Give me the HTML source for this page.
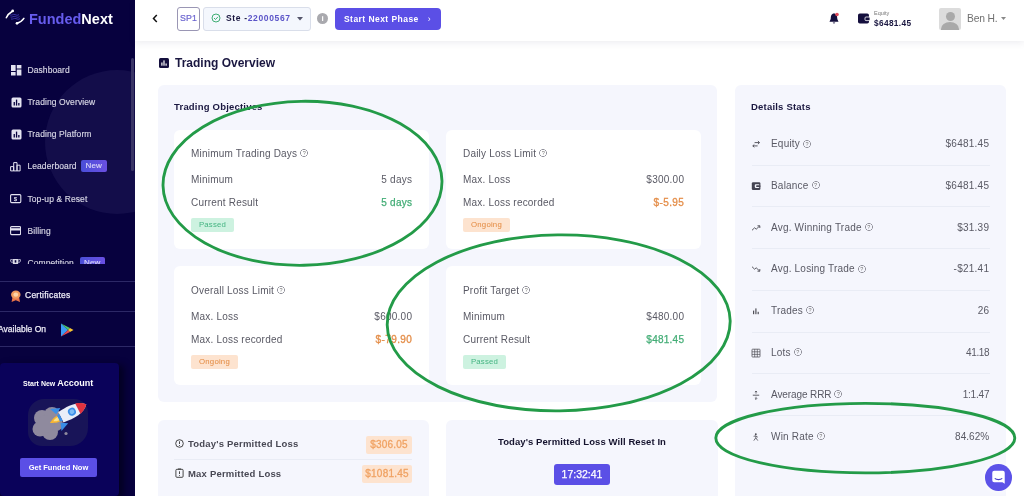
<!DOCTYPE html>
<html><head><meta charset="utf-8">
<style>
*{box-sizing:border-box;margin:0;padding:0}
html,body{width:1024px;height:496px;overflow:hidden;background:#fff;font-family:"Liberation Sans",sans-serif;color:#4a4a5a}
.abs{position:absolute}
#side{position:absolute;left:0;top:0;width:135px;height:496px;background:#07013e;overflow:hidden}
#side .glow{position:absolute;left:45px;top:70px;width:144px;height:144px;border-radius:50%;background:#130d4a}
.nav{position:absolute;left:10px;width:124px;letter-spacing:.1px;-webkit-text-stroke:.15px #d9d8e6;color:#d9d8e6;font-size:8.5px;white-space:nowrap;height:12px;line-height:12px}
.nav svg{position:absolute;left:0;top:.6px}.nav svg.s1{left:.8px;top:.9px}
.nav span.t{position:absolute;left:17.4px;top:.3px}
.new{position:absolute;background:#5b4fe0;color:#dcd9ff;font-size:8px;border-radius:2px;padding:0;width:25.5px;text-align:center;background:linear-gradient(90deg,#4a4fd8,#6a4fe2);height:12px;line-height:12px;top:0}
#top{position:absolute;left:135px;top:0;width:889px;height:40.5px;background:#fff;box-shadow:0 2px 7px rgba(60,60,100,.09)}
.panel{position:absolute;background:#f5f6fd;border-radius:6px}
.card{position:absolute;background:#fff;border-radius:6px}
.h{position:absolute;font-weight:bold;color:#1a1740;font-size:9.5px;white-space:nowrap;letter-spacing:.2px}
.l{position:absolute;font-size:10px;color:#595964;white-space:nowrap;letter-spacing:.2px}
.r{position:absolute;font-size:10px;color:#595964;white-space:nowrap;text-align:right;letter-spacing:.25px;margin-right:-.25px}
.badge{position:absolute;font-size:7.8px;border-radius:2px;height:14px;line-height:14.5px;text-align:center;letter-spacing:.2px}
.g{color:#43ad76;-webkit-text-stroke:.25px #43ad76}.o{color:#e48d48;-webkit-text-stroke:.3px #e48d48;letter-spacing:.4px}
.bg{background:#cdf2e0;color:#45b582}.bo{background:#fde3cf;color:#e3893f}
.q{display:inline-block;width:8px;height:8px;margin-left:3px;position:relative;top:.4px;background:radial-gradient(circle at 50% 50%,transparent 2.9px,#93939d 3.1px,#93939d 3.65px,transparent 4px)}.q:after{content:"?";position:absolute;left:0;top:0;width:8px;text-align:center;font-size:5.5px;line-height:8.4px;color:#777;letter-spacing:0}
.sep{position:absolute;height:1px;background:#e9ecf5}
#side,#top,#main{will-change:transform}
</style></head><body>

<div id="side">
 <div class="glow"></div>
 <div class="abs" style="left:29px;top:10.7px;font-size:14.5px;font-weight:bold;color:#675cee;letter-spacing:0px">Funded<span style="color:#fff">Next</span></div>
 <svg class="abs" style="left:5px;top:9px" width="20" height="16" viewBox="0 0 20 16"><path d="M5 6 C7 6.6 8 4.8 10 5.6 S12.5 6.6 14 5.6 M5.5 8 C7.5 8.6 8.5 6.8 10.5 7.6 S13 8.6 14.5 7.6 M6 10 C8 10.6 9 8.8 11 9.6 S13.5 10.6 15 9.6" stroke="#3f38b0" stroke-width=".9" fill="none"/><path d="M1.3 8.8 C2.5 6 5 3.6 7.6 2" stroke="#fff" stroke-width="1.5" fill="none" stroke-linecap="round"/><circle cx="7.7" cy="1.9" r="1.35" fill="#fff"/><path d="M18.9 9.3 C17.6 11.4 14.8 13.2 12 14.2" stroke="#fff" stroke-width="1.5" fill="none" stroke-linecap="round"/><circle cx="12" cy="14.3" r="1.35" fill="#fff"/></svg>

 <div class="nav" style="top:63.9px"><svg class="s1" width="11" height="11"><rect x="0" y="0" width="4.6" height="6" fill="#e4e3f0"/><rect x="0" y="7" width="4.6" height="3.5" fill="#e4e3f0"/><rect x="5.8" y="0" width="4.6" height="3.5" fill="#e4e3f0"/><rect x="5.8" y="4.5" width="4.6" height="6" fill="#e4e3f0"/></svg><span class="t">Dashboard</span></div>
 <div class="nav" style="top:96px"><svg class="s1" width="11" height="11"><rect x="0.5" y="0.5" width="10" height="10" rx="1.5" fill="#e4e3f0"/><rect x="2.6" y="5" width="1.3" height="3.5" fill="#07013e"/><rect x="4.9" y="2.6" width="1.3" height="6" fill="#07013e"/><rect x="7.2" y="6" width="1.3" height="2.5" fill="#07013e"/></svg><span class="t">Trading Overview</span></div>
 <div class="nav" style="top:128.1px"><svg class="s1" width="11" height="11"><rect x="0.5" y="0.5" width="10" height="10" rx="1.5" fill="#e4e3f0"/><rect x="2.6" y="5" width="1.3" height="3.5" fill="#07013e"/><rect x="4.9" y="2.6" width="1.3" height="6" fill="#07013e"/><rect x="7.2" y="6" width="1.3" height="2.5" fill="#07013e"/></svg><span class="t">Trading Platform</span></div>
 <div class="nav" style="top:160.2px"><svg width="11" height="11"><path d="M0.6 9.9 V5.6 H3.7 V9.9 Z M3.7 9.9 V1.6 H7 V9.9 Z M7 9.9 V4.2 H10.1 V9.9 Z" stroke="#e4e3f0" stroke-width="1" fill="none" stroke-linejoin="round"/></svg><span class="t">Leaderboard</span><span class="new" style="left:71px">New</span></div>
 <div class="nav" style="top:192.3px"><svg width="12" height="11"><rect x="0.6" y="1.6" width="10.2" height="8" rx="1" stroke="#e4e3f0" fill="none" stroke-width="1.1"/><text x="5.5" y="8" font-size="6" font-weight="bold" fill="#e4e3f0" text-anchor="middle" font-family="Liberation Sans">$</text></svg><span class="t">Top-up &amp; Reset</span></div>
 <div class="nav" style="top:224.4px"><svg width="11" height="11"><rect x="0.6" y="1.6" width="10" height="8" rx="1" fill="none" stroke="#e4e3f0" stroke-width="1.1"/><rect x="0.6" y="3.2" width="10" height="2.3" fill="#e4e3f0"/></svg><span class="t">Billing</span></div>
 <div class="nav" style="top:257.2px;height:6.5px;overflow:hidden"><svg width="11" height="11"><path d="M2.6 1 H8.4 V4 A2.9 2.9 0 0 1 2.6 4Z" fill="#dcdbe8"/><path d="M2.6 1.6 H0.6 V3 A2 2 0 0 0 2.6 4.6 M8.4 1.6 H10.4 V3 A2 2 0 0 1 8.4 4.6" stroke="#b9b7d0" fill="none" stroke-width=".9"/><rect x="4.7" y="2.2" width="1.6" height="2.4" fill="#07013e"/></svg><span class="t" style="top:-.2px">Competition</span><span class="new" style="left:69.5px">New</span></div>

 <div class="sep" style="left:0;top:281px;width:135px;background:#2c2866"></div>
 <div class="sep" style="left:0;top:311px;width:135px;background:#2c2866"></div>
 <div class="sep" style="left:0;top:346px;width:135px;background:#2c2866"></div>
 <svg class="abs" style="left:10.3px;top:289.6px" width="11.6" height="13" viewBox="0 0 11 14" preserveAspectRatio="none"><path d="M2.5 7 L1.5 13 L5.5 11 L9.5 13 L8.5 7Z" fill="#e8744a"/><circle cx="5.5" cy="5" r="4.5" fill="#f09a5e"/><circle cx="5.5" cy="5" r="2.3" fill="#fbd3a8"/></svg>
 <div class="abs" style="left:25px;top:290.1px;font-size:8.5px;color:#ecebf5;letter-spacing:.25px;-webkit-text-stroke:.25px #ecebf5">Certificates</div>
 <div class="abs" style="left:-2px;top:324.2px;font-size:8.5px;color:#ecebf5;-webkit-text-stroke:.25px #ecebf5">Available On</div>
 <svg class="abs" style="left:60px;top:322.6px" width="14" height="14" viewBox="0 0 14 14"><path d="M1 0.5 L8 7 L1 13.5Z" fill="#3b9cf5"/><path d="M1 0.5 L10 5 L8 7Z" fill="#4cc36b"/><path d="M1 13.5 L10 9 L8 7Z" fill="#e8484f"/><path d="M10 5 L13.5 7 L10 9 L8 7Z" fill="#f7c531"/></svg>

 <div class="abs" style="left:0;top:363px;width:119px;height:133px;background:#0a025a;border-radius:4px;box-shadow:5px 2px 7px rgba(0,0,15,.6)"></div>
 <div class="abs" style="left:23px;top:378px;font-size:7px;font-weight:bold;color:#fff;white-space:nowrap">Start New <span style="font-size:9px">Account</span></div>
 <div class="abs" style="left:28px;top:399px;width:60px;height:47px;background:#181458;border-radius:16px 14px 18px 14px"></div>
 <svg class="abs" style="left:28px;top:396px" width="64" height="52" viewBox="0 0 64 52">
  <g fill="#8f8a9e"><circle cx="14" cy="22" r="8"/><circle cx="24" cy="19" r="8"/><circle cx="12" cy="33" r="7.5"/><circle cx="22" cy="36" r="8"/><circle cx="28" cy="28" r="7"/><circle cx="18" cy="28" r="9"/></g>
  <circle cx="38" cy="37.5" r="1.6" fill="#8f8a9e"/>
  <g transform="translate(41.4 17) rotate(63) scale(.95)">
   <path d="M-9 6 L-13 16 L-5 13Z M9 6 L13 16 L5 13Z" fill="#3a8ee8"/>
   <path d="M0 -20 C7 -14 8 -2 6 10 H-6 C-8 -2 -7 -14 0 -20Z" fill="#e9eef8"/>
   <path d="M0 -20 C3.2 -17.3 5.2 -13.6 6.2 -10 H-6.2 C-5.2 -13.6 -3.2 -17.3 0 -20Z" fill="#e0323f"/>
   <circle cx="0" cy="-3" r="4.2" fill="#3a8ee8"/><circle cx="0" cy="-3" r="2.5" fill="#7dbcf5"/>
   <path d="M-4.5 10 H4.5 L3 13 H-3Z" fill="#3a8ee8"/>
   <path d="M-3.5 13 H3.5 C3.5 17 1.5 20 0 23 C-1.5 20 -3.5 17 -3.5 13Z" fill="#f7b531"/>
   <path d="M-1.8 13 H1.8 C1.8 15.5 .8 17.5 0 19 C-.8 17.5 -1.8 15.5 -1.8 13Z" fill="#fde18a"/>
  </g>
 </svg>
 <div class="abs" style="left:20px;top:458px;width:77px;height:19px;background:#5b4fe6;border-radius:2px;color:#fff;font-size:7.5px;font-weight:bold;text-align:center;line-height:19px">Get Funded Now</div>
 <div class="abs" style="left:131px;top:58px;width:3px;height:113px;background:#3a3566;border-radius:2px"></div>
</div>

<div id="top">
 <svg class="abs" style="left:17px;top:14px" width="6" height="9" viewBox="0 0 6 9"><path d="M4.8 1 L1.5 4.5 L4.8 8" stroke="#111" stroke-width="1.5" fill="none"/></svg>
 <div class="abs" style="left:42px;top:6.6px;width:23px;height:24.2px;border:1px solid #9a96b4;border-radius:3px;color:#6c65d0;font-size:8.8px;line-height:21.5px;letter-spacing:.1px;-webkit-text-stroke:.2px #6c65d0;text-align:center">SP1</div>
 <div class="abs" style="left:68px;top:6.6px;width:107.5px;height:24.2px;border:1px solid #d9deea;background:#f4f7fd;border-radius:3px"></div>
 <svg class="abs" style="left:76px;top:13px" width="10" height="10" viewBox="0 0 10 10"><circle cx="5" cy="5" r="4" stroke="#3fae74" stroke-width="1" fill="none"/><path d="M3 5 L4.5 6.5 L7 3.8" stroke="#3fae74" stroke-width="1" fill="none"/></svg>
 <div class="abs" style="left:91px;top:13px;font-size:8.5px;font-weight:bold;color:#1a1740;white-space:nowrap;letter-spacing:.65px">Ste -<span style="color:#5b54c8">22000567</span></div>
 <svg class="abs" style="left:162px;top:17px" width="6" height="4"><path d="M0 0 H6 L3 3.5Z" fill="#55556a"/></svg>
 <div class="abs" style="left:182px;top:13px;width:11px;height:11px;border-radius:50%;background:#a9a9ae;color:#fff;font-size:8px;font-weight:bold;text-align:center;line-height:11px">i</div>
 <div class="abs" style="left:200px;top:8px;width:106px;height:22px;background:#5b4fe6;border-radius:4px;color:#fff;font-size:8.5px;font-weight:bold;line-height:22px;padding-left:9px;white-space:nowrap;letter-spacing:.45px">Start Next Phase<span style="font-weight:normal;margin-left:9px">›</span></div>

 <svg class="abs" style="left:694px;top:12px" width="11" height="13" viewBox="0 0 11 13"><path d="M5 1.5 C2.5 1.5 1.8 4 1.8 6 C1.8 8 0.5 9 0.5 9.8 H9.5 C9.5 9 8.2 8 8.2 6 C8.2 4 7.5 1.5 5 1.5Z" fill="#140f3d"/><path d="M3.7 10.6 A1.4 1.4 0 0 0 6.3 10.6Z" fill="#140f3d"/><circle cx="8" cy="2.5" r="1.8" fill="#e04a5a"/></svg>
 <svg class="abs" style="left:723px;top:13px" width="12" height="11" viewBox="0 0 12 11"><rect x="0" y="0.5" width="11" height="10" rx="1.8" fill="#140f3d"/><rect x="7" y="4" width="5" height="3.6" rx="1" fill="#140f3d" stroke="#fff" stroke-width=".8"/></svg>
 <div class="abs" style="left:739px;top:10px;font-size:5.5px;color:#777">Equity</div>
 <div class="abs" style="left:739px;top:17.8px;font-size:8.3px;font-weight:bold;color:#1a1740;letter-spacing:.35px">$6481.45</div>
 <div class="abs" style="left:804px;top:8px;width:22px;height:22px;background:#dcdcdc;border-radius:2px;overflow:hidden"><div class="abs" style="left:6.5px;top:4px;width:9px;height:9px;border-radius:50%;background:#a9a9a9"></div><div class="abs" style="left:2px;top:14px;width:18px;height:14px;border-radius:50% 50% 0 0;background:#a9a9a9"></div></div>
 <div class="abs" style="left:832px;top:13px;font-size:10.3px;color:#707070;letter-spacing:-.15px">Ben H.</div>
 <svg class="abs" style="left:866.3px;top:17.3px" width="6" height="4"><path d="M0 0 H5 L2.5 3Z" fill="#888"/></svg>
</div>

<div id="main" class="abs" style="left:0;top:0;width:1024px;height:496px">
<svg class="abs" style="left:159px;top:58px" width="10" height="10"><rect width="10" height="10" rx="1.5" fill="#140f3d"/><rect x="2.3" y="4.5" width="1.2" height="3.2" fill="#fff"/><rect x="4.4" y="2.4" width="1.2" height="5.3" fill="#fff"/><rect x="6.5" y="5.5" width="1.2" height="2.2" fill="#fff"/></svg>
<div class="abs" style="left:175px;top:56px;font-size:12px;font-weight:bold;color:#1a1740">Trading Overview</div>

<div class="panel" style="left:158px;top:85px;width:559px;height:316.5px"></div>
<div class="h" style="left:174px;top:101px">Trading Objectives</div>

<div class="card" style="left:174px;top:130px;width:255px;height:119px"></div>
<div class="l" style="left:191px;top:148px">Minimum Trading Days<span class="q"></span></div>
<div class="l" style="left:191px;top:174px">Minimum</div><div class="r" style="right:612px;top:174px">5 days</div>
<div class="l" style="left:191px;top:197px">Current Result</div><div class="r g" style="right:612px;top:197px">5 days</div>
<div class="badge bg" style="left:191px;top:218px;width:43px">Passed</div>

<div class="card" style="left:446px;top:130px;width:255px;height:119px"></div>
<div class="l" style="left:463px;top:148px">Daily Loss Limit<span class="q"></span></div>
<div class="l" style="left:463px;top:174px">Max. Loss</div><div class="r" style="right:340px;top:174px">$300.00</div>
<div class="l" style="left:463px;top:197px">Max. Loss recorded</div><div class="r o" style="right:340px;top:197px">$-5.95</div>
<div class="badge bo" style="left:463px;top:218px;width:47px">Ongoing</div>

<div class="card" style="left:174px;top:266px;width:255px;height:119px"></div>
<div class="l" style="left:191px;top:285px">Overall Loss Limit<span class="q"></span></div>
<div class="l" style="left:191px;top:311px">Max. Loss</div><div class="r" style="right:612px;top:311px">$600.00</div>
<div class="l" style="left:191px;top:334px">Max. Loss recorded</div><div class="r o" style="right:612px;top:334px">$-79.90</div>
<div class="badge bo" style="left:191px;top:355.2px;width:47px">Ongoing</div>

<div class="card" style="left:446px;top:266px;width:255px;height:119px"></div>
<div class="l" style="left:463px;top:285px">Profit Target<span class="q"></span></div>
<div class="l" style="left:463px;top:311px">Minimum</div><div class="r" style="right:340px;top:311px">$480.00</div>
<div class="l" style="left:463px;top:334px">Current Result</div><div class="r g" style="right:340px;top:334px">$481.45</div>
<div class="badge bg" style="left:463px;top:355.2px;width:43px">Passed</div>

<div class="panel" style="left:158px;top:420px;width:271px;height:90px"></div>
<div class="l" style="left:188px;top:438px;font-weight:bold;font-size:9.5px;color:#484854">Today's Permitted Loss</div>
<div class="l" style="left:188px;top:468px;font-weight:bold;font-size:9.5px;color:#484854">Max Permitted Loss</div>
<div class="sep" style="left:174px;top:459px;width:238px"></div>
<div class="badge bo" style="left:366px;top:436px;width:46px;height:17.5px;line-height:18px;font-size:10px;color:#f0a263;-webkit-text-stroke:.3px #f0a263">$306.05</div>
<div class="badge bo" style="left:362px;top:465px;width:50px;height:17.5px;line-height:18px;font-size:10px;color:#f0a263;-webkit-text-stroke:.3px #f0a263">$1081.45</div>
<svg class="abs" style="left:175px;top:439px" width="9" height="9"><circle cx="4.5" cy="4.5" r="3.8" stroke="#333" fill="none" stroke-width=".9"/><path d="M4.5 2.3 V5 M4.5 6 V6.9" stroke="#333" stroke-width=".9"/></svg>
<svg class="abs" style="left:175px;top:468px" width="9" height="10"><rect x="0.9" y="1.3" width="7.2" height="8" rx="1" stroke="#333" fill="none" stroke-width=".9"/><path d="M3 1 H6 M4.5 3.3 V6 M4.5 7 V7.8" stroke="#333" stroke-width=".9"/></svg>

<div class="panel" style="left:446px;top:420px;width:272px;height:90px"></div>
<div class="h" style="left:446px;top:436px;width:272px;text-align:center;font-size:9.5px;color:#15132e;letter-spacing:.08px">Today's Permitted Loss Will Reset In</div>
<div class="abs" style="left:554px;top:464px;width:56px;height:21px;background:#5b4fe6;border-radius:3px;color:#fff;font-size:10.5px;-webkit-text-stroke:.25px #fff;text-align:center;line-height:21.5px">17:32:41</div>

<div class="panel" style="left:735px;top:85px;width:271px;height:420px"></div>
<div class="h" style="left:751px;top:101px">Details Stats</div>

<div id="stats">
<svg class="abs" style="left:751px;top:139.3px" width="10" height="10" viewBox="0 0 10 10"><path d="M3.6 3.6 H8.4 M6.9 2 L8.5 3.6 L6.9 5.2 M6.6 6.9 H1.8 M3.3 5.5 L1.8 6.9 L3.3 8.3" stroke="#505058" stroke-width=".95" fill="none"/></svg>
<div class="l" style="left:771px;top:138.3px">Equity<span class="q"></span></div><div class="r" style="right:35px;top:138.3px">$6481.45</div>
<div class="sep" style="left:752px;top:164.7px;width:238px"></div>
<svg class="abs" style="left:751px;top:180.8px" width="10" height="10" viewBox="0 0 10 10"><rect x="0.8" y="1.2" width="8.6" height="7.8" rx="1.3" fill="#444452"/><rect x="3.8" y="3.3" width="4.6" height="3.6" rx=".8" fill="#f5f6fd"/><rect x="5.2" y="4.3" width="4.2" height="1.6" rx=".5" fill="#444452"/></svg>
<div class="l" style="left:771px;top:179.8px">Balance<span class="q"></span></div><div class="r" style="right:35px;top:179.8px">$6481.45</div>
<div class="sep" style="left:752px;top:206.2px;width:238px"></div>
<svg class="abs" style="left:751px;top:222.6px" width="10" height="10" viewBox="0 0 10 10"><path d="M1 7.3 L3.6 4.8 L5.2 6.2 L8.6 3 M6.5 2.8 H8.8 V5" stroke="#505058" stroke-width=".95" fill="none"/></svg>
<div class="l" style="left:771px;top:221.6px">Avg. Winning Trade<span class="q"></span></div><div class="r" style="right:35px;top:221.6px">$31.39</div>
<div class="sep" style="left:752px;top:248.0px;width:238px"></div>
<svg class="abs" style="left:751px;top:264.2px" width="10" height="10" viewBox="0 0 10 10"><path d="M1 2.7 L3.6 5.2 L5.2 3.8 L8.6 7 M6.5 7.2 H8.8 V5" stroke="#505058" stroke-width=".95" fill="none"/></svg>
<div class="l" style="left:771px;top:263.2px">Avg. Losing Trade<span class="q"></span></div><div class="r" style="right:35px;top:263.2px">-$21.41</div>
<div class="sep" style="left:752px;top:289.6px;width:238px"></div>
<svg class="abs" style="left:751px;top:306.1px" width="10" height="10" viewBox="0 0 10 10"><rect x="2" y="4.6" width="1.2" height="3.6" fill="#505058"/><rect x="4.3" y="2.4" width="1.2" height="5.8" fill="#505058"/><rect x="6.6" y="5.8" width="1.2" height="2.4" fill="#505058"/></svg>
<div class="l" style="left:771px;top:305.1px">Trades<span class="q"></span></div><div class="r" style="right:35px;top:305.1px">26</div>
<div class="sep" style="left:752px;top:331.5px;width:238px"></div>
<svg class="abs" style="left:751px;top:347.9px" width="10" height="10" viewBox="0 0 10 10"><rect x="1" y="1.2" width="8" height="7.8" rx=".6" stroke="#505058" fill="none" stroke-width=".8"/><path d="M1 3.8 H9 M1 6.4 H9 M3.7 1.2 V9 M6.3 1.2 V9" stroke="#505058" stroke-width=".7"/></svg>
<div class="l" style="left:771px;top:346.9px">Lots<span class="q"></span></div><div class="r" style="right:35px;top:346.9px;letter-spacing:-.35px">41.18</div>
<div class="sep" style="left:752px;top:373.3px;width:238px"></div>
<svg class="abs" style="left:751px;top:389.6px" width="10" height="10" viewBox="0 0 10 10"><path d="M1.8 5.2 H8.2" stroke="#505058" stroke-width=".9"/><path d="M5 1 V3.6 M3.9 2.1 L5 1 L6.1 2.1 M5 9.4 V6.8 M3.9 8.3 L5 9.4 L6.1 8.3" stroke="#505058" stroke-width=".8" fill="none"/></svg>
<div class="l" style="left:771px;top:388.6px;letter-spacing:-.1px">Average RRR<span class="q"></span></div><div class="r" style="right:35px;top:388.6px;letter-spacing:-.2px">1:1.47</div>
<div class="sep" style="left:752px;top:415.0px;width:238px"></div>
<svg class="abs" style="left:751px;top:431.6px" width="10" height="10" viewBox="0 0 10 10"><circle cx="4.8" cy="2.2" r=".95" fill="#505058"/><path d="M2.6 4.3 L4.8 3.9 V5.8 L2.8 8.6 M4.8 5.8 L6.8 8.6 M4.8 4 L6.8 5.2" stroke="#505058" stroke-width=".85" fill="none"/></svg>
<div class="l" style="left:771px;top:430.6px">Win Rate<span class="q"></span></div><div class="r" style="right:35px;top:430.6px;letter-spacing:.05px">84.62%</div>
</div>

<div class="abs" style="left:985px;top:464px;width:26.5px;height:26.5px;border-radius:50%;background:#5c52e8;box-shadow:0 0 6px rgba(255,255,255,.9)"></div>
<svg class="abs" style="left:990px;top:469px" width="17" height="17" viewBox="0 0 15 15"><path d="M2 3.2 A1.7 1.7 0 0 1 3.7 1.5 H11.3 A1.7 1.7 0 0 1 13 3.2 V13 L11 11.6 H3.7 A1.7 1.7 0 0 1 2 9.9Z" fill="#fff"/><path d="M4.2 8.2 C5.8 9.7 9.2 9.7 10.8 8.2" stroke="#4a40c8" stroke-width="1" fill="none"/></svg>

<svg class="abs" style="left:0;top:0;pointer-events:none" width="1024" height="496">
 <g fill="none" stroke="#239b48" stroke-width="2.85">
 <ellipse cx="302.5" cy="183.3" rx="139.5" ry="82" transform="rotate(-1 302.5 183.3)"/>
 <ellipse cx="558.7" cy="322.9" rx="171.5" ry="88" transform="rotate(-.7 558.7 322.9)"/>
 <ellipse cx="865.3" cy="438.1" rx="149.5" ry="34.8"/>
 </g>
</svg>
</div>
</body></html>
